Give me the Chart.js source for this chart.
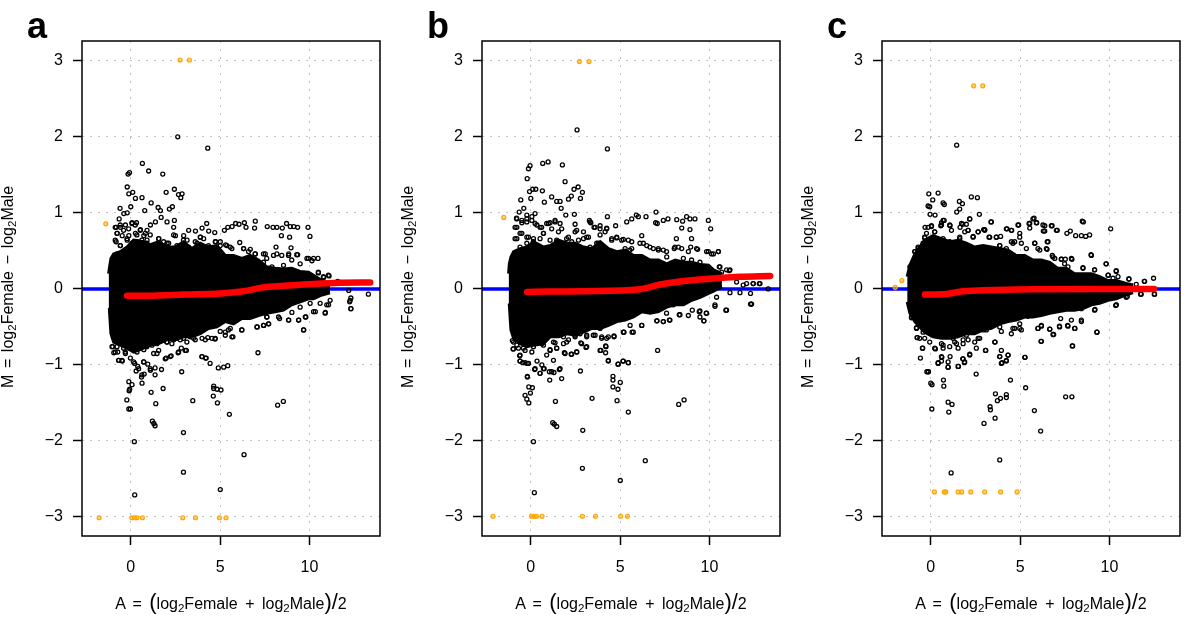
<!DOCTYPE html>
<html>
<head>
<meta charset="utf-8">
<script src="https://cdn.jsdelivr.net/npm/chart.js@4"></script>
<style>
  html, body { margin: 0; padding: 0; background: #fff; width: 1200px; height: 618px; overflow: hidden; }
  body { position: relative; font-family: "Liberation Sans", Arial, sans-serif; color: #000; }
  canvas { position: absolute; top: 0; }
  .letter { position: absolute; top: 1px; font-size: 36px; font-weight: bold; line-height: 50px; }
  .xtitle, .ytitle { position: absolute; font-size: 16px; line-height: 20px; white-space: nowrap; word-spacing: 3px; }
  .xtitle { top: 594px; width: 300px; text-align: center; }
  .ytitle { top: 277px; width: 300px; text-align: center; word-spacing: 2.2px; transform: rotate(-90deg); transform-origin: center; }
  sub { font-size: 11.5px; line-height: 0; vertical-align: -3px; }
  .big { font-size: 22px; line-height: 0; }
</style>
</head>
<body>
<canvas id="panel-a" width="400" height="618" style="left:0"></canvas>
<canvas id="panel-b" width="400" height="618" style="left:400px"></canvas>
<canvas id="panel-c" width="400" height="618" style="left:800px"></canvas>
<script>
const xTicks = [0, 5, 10];
const yTicks = [-3, -2, -1, 0, 1, 2, 3];
const xRange = [-2.73, 13.95];
const yRange = [-3.25, 3.26];

// panel a
const aCloudA = [-1.24, -1.2, -1.11, -0.96, -0.59, -0.21, 0.16, 0.72, 1.09, 1.56, 2.02, 2.49, 2.95, 3.42, 3.89, 4.35, 4.82, 5.29, 5.75, 6.22, 6.68, 7.15, 7.61, 8.08, 8.55, 9.01, 9.48, 9.95, 10.23, 10.7, 11.15];
const aCloudUpper = [0.2, 0.27, 0.4, 0.46, 0.49, 0.55, 0.64, 0.62, 0.58, 0.62, 0.55, 0.55, 0.62, 0.53, 0.6, 0.55, 0.57, 0.44, 0.44, 0.4, 0.44, 0.38, 0.29, 0.27, 0.26, 0.27, 0.23, 0.22, 0.18, 0.11, 0.05];
const aCloudLower = [-0.25, -0.26, -0.59, -0.7, -0.74, -0.78, -0.83, -0.78, -0.74, -0.72, -0.67, -0.67, -0.63, -0.63, -0.59, -0.52, -0.5, -0.43, -0.46, -0.39, -0.39, -0.35, -0.32, -0.3, -0.28, -0.21, -0.17, -0.13, -0.13, -0.08, -0.05];
const aTrendA = [-0.2, 1, 3, 5, 6.3, 7.43, 8.55, 10.2, 11.7, 13.4];
const aTrendM = [-0.09, -0.09, -0.074, -0.06, -0.03, 0.02, 0.04, 0.065, 0.08, 0.083];
const aOrange = [[2.76, 3.01], [3.28, 3.01], [-1.4, 0.855], [-1.77, -3.01], [0.06, -3.01], [0.22, -3.01], [0.34, -3.01], [0.65, -3.01], [2.91, -3.01], [3.62, -3.01], [4.96, -3.01], [5.33, -3.01]];
const aUpperPoints = [[2.63, 2], [4.31, 1.85], [0.65, 1.65], [1, 1.55], [1.79, 1.51], [-0.07, 1.53], [-0.15, 1.51], [-0.2, 1.34], [-0.11, 1.25], [0.11, 1.27], [0.26, 1.19], [0.63, 1.2], [1.98, 1.27], [2.44, 1.31], [2.67, 1.24], [2.87, 1.25], [2.8, 1.2], [1.14, 1.13], [1.53, 1.07], [1.66, 1.03], [2.16, 1.05], [2.33, 1.08], [0.78, 1.03], [0, 1.08], [-0.6, 1.06], [-0.39, 0.99], [-0.2, 1], [-0.65, 0.92],
  [1.38, 0.88], [1.7, 0.94], [2.03, 0.88], [2.44, 0.9], [4.25, 0.86], [3.99, 0.8], [3.24, 0.77], [3.62, 0.76], [4.36, 0.76], [4.7, 0.74], [5.24, 0.77], [5.43, 0.81], [5.67, 0.82], [5.87, 0.86], [6.06, 0.85], [6.36, 0.87], [6.45, 0.81], [6.97, 0.89], [6.93, 0.8], [7.64, 0.82], [7.96, 0.81], [8.18, 0.81], [8.48, 0.8], [8.72, 0.86], [8.93, 0.82], [9.12, 0.82], [9.34, 0.81], [9.92, 0.81], [10.03, 0.69], [8.43, 0.7], [8.89, 0.68], [8.13, 0.55], [8.97, 0.54], [8.18, 0.46], [8.84, 0.46], [9.34, 0.45], [6.1, 0.61], [5.31, 0.58], [5.01, 0.62], [4.75, 0.62], [5.57, 0.55], [6.32, 0.53], [6.69, 0.52], [6.97, 0.46], [7.53, 0.46], [9.86, 0.4], [10.14, 0.37], [10.48, 0.4], [10.5, 0.21], [11.1, 0.17], [10.8, 0.15], [11.58, 0.1], [13.3, -0.07], [12.32, -0.12], [12.2, -0.02],
  [-0.82, 0.81], [-0.58, 0.81], [-0.3, 0.84], [0.07, 0.87], [0.32, 0.87], [-0.76, 0.73], [-0.48, 0.7], [-0.11, 0.7], [0.26, 0.73], [0.54, 0.78], [0.91, 0.77], [0.73, 0.7], [1.1, 0.84], [-0.82, 0.62], [-0.58, 0.57], [-0.2, 0.64], [0.35, 0.62], [0.91, 0.64], [1.57, 0.66], [2.4, 0.81], [2.5, 0.7], [2.96, 0.7], [3.15, 0.64], [3.9, 0.68], [4.08, 0.66], [3.71, 0.6], [4.36, 0.55], [2.03, 0.6], [2.78, 0.57], [-0.95, 0.4], [-0.76, 0.46]];
const aUpperRim = [[-0.87, 0.81], [-0.59, 0.84], [-0.4, 0.77], [-0.77, 0.73], [-0.12, 0.79], [0.07, 0.86], [0.25, 0.84], [0.53, 0.77], [0.81, 0.73], [1.09, 0.71], [-0.87, 0.64], [-0.59, 0.57], [-0.21, 0.66], [0.07, 0.6], [0.34, 0.71], [0.62, 0.64], [0.9, 0.6], [1.18, 0.55], [1.56, 0.66], [1.84, 0.62], [2.12, 0.6], [2.4, 0.71], [2.58, 0.57], [2.95, 0.64], [3.24, 0.55], [3.61, 0.62], [3.89, 0.68], [4.07, 0.55], [4.35, 0.57], [4.73, 0.62], [5.01, 0.57], [5.38, 0.57], [5.66, 0.53], [6.31, 0.53], [6.59, 0.49], [6.96, 0.46], [7.43, 0.46], [7.61, 0.4], [7.99, 0.44], [8.45, 0.44], [8.83, 0.44], [9.29, 0.45], [7.43, 0.35], [7.9, 0.29], [8.55, 0.31], [9.01, 0.38], [9.48, 0.33], [9.95, 0.4], [10.23, 0.4], [10.5, 0.22], [10.78, 0.16], [11.06, 0.18]];
const aLowerPoints = [[0.22, -2.71], [5.01, -2.64], [2.95, -2.41], [6.34, -2.18], [0.2, -2.01], [2.95, -1.89], [5.52, -1.65], [1.36, -1.8], [1.21, -1.74], [1.29, -1.77], [1.4, -1.51], [-0.11, -1.58], [-0.02, -1.58], [-0.22, -1.46], [1.14, -1.36], [1.81, -1.31], [0.63, -1.24], [0.6, -1.16], [0.75, -1.12], [1.1, -1.07], [1.36, -1.04], [1.36, -1.13], [1.72, -1.06], [-0.11, -1.22], [0.07, -1.26], [-0.06, -1.32], [-0.09, -1.34], [3.47, -1.47], [4.85, -1.5], [4.64, -1.28], [4.64, -1.31], [4.83, -1.32], [5.05, -1.33], [4.62, -1.41], [2.85, -1.09], [4.9, -1.04], [5.2, -1.03], [5.43, -1.01], [8.22, -1.53], [8.54, -1.48], [7.12, -0.84], [4.44, -0.98], [3.99, -0.89], [4.19, -0.91], [2.83, -0.78], [3.11, -0.81], [2.65, -0.84], [2.26, -0.88], [1.98, -0.91], [0.95, -0.99], [0.73, -0.96], [0.3, -1.08], [0.39, -1.02], [0.22, -0.98], [-0.02, -0.91], [-0.48, -0.95], [-0.67, -0.94], [-1.01, -0.76], [-0.95, -0.84], [-0.73, -0.83], [-0.3, -0.85], [0.35, -0.83], [0.73, -0.8], [1.47, -0.85], [1.19, -0.74], [1.57, -0.67], [2.03, -0.7], [2.4, -0.67], [2.96, -0.65], [3.52, -0.65], [3.99, -0.65], [4.31, -0.64], [4.72, -0.66], [5.29, -0.61], [5.72, -0.63], [6.21, -0.54], [7.08, -0.5], [7.44, -0.48], [7.72, -0.46], [9.68, -0.54], [8.84, -0.41], [9.4, -0.41], [8.33, -0.39], [9.77, -0.37], [10.89, -0.31], [12.32, -0.26], [12.25, -0.17], [11.07, -0.21], [10.33, -0.3], [9.02, -0.31], [7.62, -0.37], [6.88, -0.35], [5.57, -0.52], [5.01, -0.56]];
const aLowerRim = [[-1.05, -0.76], [-0.87, -0.83], [-0.68, -0.94], [-0.49, -0.94], [-0.31, -0.83], [-0.03, -0.78], [0.16, -0.96], [0.44, -1.05], [0.62, -1.13], [0.72, -0.96], [1.09, -1.05], [1.28, -0.85], [1.56, -0.81], [1.93, -0.92], [2.21, -0.89], [2.68, -0.83], [3.05, -0.81], [2.3, -0.72], [2.77, -0.67], [3.14, -0.7], [3.61, -0.67], [3.98, -0.89], [4.22, -0.91], [4.17, -0.67], [4.54, -0.65], [4.73, -0.65], [5.29, -0.57], [5.47, -0.54], [5.66, -0.63], [6.22, -0.54], [7.06, -0.5], [7.43, -0.48], [7.71, -0.46], [7.61, -0.37], [8.27, -0.37], [8.83, -0.41], [9.39, -0.41], [9.67, -0.54], [9.8, -0.37], [10.23, -0.3], [10.88, -0.32], [10.97, -0.21], [11.16, -0.15], [12.28, -0.15], [12.32, -0.26], [9.48, -0.24], [10.04, -0.19], [10.6, -0.19], [-0.77, -0.76], [-0.4, -0.78], [0.34, -0.78], [0.9, -0.76], [1.46, -0.72], [2.02, -0.7], [2.58, -0.65], [3.33, -0.63]];

// panel b
const bCloudA = [-1.24, -1.2, -1.11, -0.96, -0.59, -0.21, 0.16, 0.72, 1.09, 1.56, 2.02, 2.49, 2.95, 3.42, 3.89, 4.35, 4.82, 5.29, 5.75, 6.22, 6.68, 7.15, 7.61, 8.08, 8.55, 9.01, 9.48, 9.95, 10.23, 10.7];
const bCloudUpper = [0.2, 0.33, 0.42, 0.49, 0.53, 0.55, 0.62, 0.55, 0.57, 0.64, 0.6, 0.6, 0.55, 0.53, 0.62, 0.53, 0.49, 0.51, 0.44, 0.44, 0.38, 0.38, 0.33, 0.38, 0.35, 0.35, 0.32, 0.31, 0.25, 0.2];
const bCloudLower = [-0.22, -0.21, -0.54, -0.65, -0.72, -0.76, -0.74, -0.72, -0.63, -0.63, -0.59, -0.61, -0.57, -0.52, -0.52, -0.48, -0.43, -0.41, -0.37, -0.3, -0.32, -0.3, -0.24, -0.21, -0.21, -0.15, -0.11, -0.06, -0.03, 0.03];
const bTrendA = [-0.2, 1, 3, 6.1, 7.24, 8.36, 10.2, 11.7, 13.4];
const bTrendM = [-0.04, -0.035, -0.03, -0.004, 0.057, 0.096, 0.136, 0.158, 0.17];
const bOrange = [[2.72, 2.99], [3.26, 2.99], [-1.51, 0.94], [-2.11, -2.99], [0.04, -2.99], [0.19, -2.99], [0.32, -2.99], [0.63, -2.99], [2.89, -2.99], [3.62, -2.99], [5.03, -2.99], [5.41, -2.99]];
const bUpperPoints = [[2.59, 2.09], [4.29, 1.84], [0.67, 1.65], [0.97, 1.67], [1.77, 1.63], [-0.04, 1.62], [-0.13, 1.58], [-0.2, 1.45], [1.92, 1.41], [-0.07, 1.28], [0.11, 1.31], [0.28, 1.31], [0.65, 1.29], [0, 1.19], [1.17, 1.21], [2.42, 1.31], [2.65, 1.34], [2.89, 1.27], [2.78, 1.19], [2.11, 1.18], [2.27, 1.22], [0.76, 1.14], [1.45, 1.15], [1.64, 1.15], [1.7, 1.06], [-0.56, 1.17], [-0.39, 1.06], [-0.65, 1.01], [0.24, 0.99], [0.06, 0.95], [-0.8, 0.93], [-0.22, 0.97], [1.96, 0.97], [2.44, 0.98], [4.29, 0.95], [7.01, 1.01], [5.91, 0.97], [6.02, 0.95], [6.45, 0.95], [8.72, 0.95], [8.91, 0.92], [9.19, 0.92], [9.94, 0.9], [7.68, 0.92], [8.17, 0.91], [8.5, 0.89], [7.42, 0.9], [6.99, 0.87], [7.08, 0.86], [5.65, 0.92], [5.37, 0.88], [4.75, 0.83], [4.25, 0.8], [3.88, 0.83], [3.54, 0.81], [3.28, 0.9], [3.36, 0.87], [8.45, 0.8], [8.91, 0.78], [10.07, 0.79], [8.15, 0.66], [9, 0.66], [8.03, 0.53], [8.26, 0.55], [8.95, 0.55], [9.34, 0.52], [9.94, 0.49], [10.12, 0.46], [10.5, 0.49], [10.55, 0.29], [11.11, 0.24], [10.68, 0.22], [11.52, 0.09], [12.08, 0.07], [12.45, 0.07], [12.79, 0.07], [12.3, -0.06], [13.29, 0], [12.3, -0.2],
  [1.36, 0.9], [0.89, 0.86], [1.08, 0.87], [1.64, 0.86], [2.48, 0.85], [-0.78, 0.81], [-0.5, 0.87], [-0.22, 0.88], [0.34, 0.84], [0.61, 0.81], [-0.78, 0.66], [-0.5, 0.73], [-0.13, 0.68], [0.15, 0.62], [0.71, 0.73], [1.17, 0.79], [1.45, 0.64], [2.01, 0.66], [2.57, 0.77], [2.95, 0.75], [3.13, 0.68], [3.88, 0.71], [4.16, 0.75], [3.69, 0.6], [4.53, 0.64], [4.81, 0.67], [5.18, 0.65], [5.65, 0.62], [6.21, 0.7], [6.3, 0.6], [6.67, 0.55], [7.14, 0.53], [7.6, 0.49], [5.55, 0.51]];
const bUpperRim = [[-0.88, 0.81], [-0.78, 0.92], [-0.5, 0.9], [-0.22, 0.92], [0.06, 0.9], [0.24, 0.86], [0.52, 0.81], [0.71, 0.73], [0.99, 0.86], [1.36, 0.88], [1.55, 0.75], [1.73, 0.79], [2.11, 0.68], [2.48, 0.75], [2.67, 0.64], [2.95, 0.66], [3.23, 0.68], [3.32, 0.88], [3.6, 0.81], [3.88, 0.79], [4.25, 0.79], [3.78, 0.6], [4.06, 0.55], [4.53, 0.66], [4.81, 0.68], [5.09, 0.64], [5.46, 0.64], [5.28, 0.53], [5.65, 0.53], [6.11, 0.6], [6.49, 0.57], [6.86, 0.53], [7.14, 0.51], [7.42, 0.51], [7.61, 0.42], [8.07, 0.55], [8.45, 0.53], [8.82, 0.49], [9.28, 0.53], [9.84, 0.49], [10.22, 0.46], [10.5, 0.49], [10.59, 0.29], [10.96, 0.25], [11.15, 0.25], [8.54, 0.4], [9, 0.38], [9.47, 0.35], [-0.88, 0.66], [-0.6, 0.73], [-0.22, 0.68], [0.15, 0.66], [-0.6, 0.55], [-0.22, 0.6], [0.52, 0.66], [1.08, 0.64], [1.45, 0.62], [1.92, 0.6], [2.29, 0.62], [2.76, 0.55], [3.32, 0.55]];
const bLowerPoints = [[0.2, -2.68], [5.01, -2.52], [2.89, -2.36], [6.41, -2.26], [0.15, -2.01], [2.91, -1.86], [1.45, -1.81], [1.23, -1.76], [1.32, -1.78], [5.46, -1.62], [1.38, -1.48], [-0.11, -1.5], [-0.22, -1.45], [-0.32, -1.4], [-0.02, -1.37], [-0.11, -1.29], [0.09, -1.3], [-0.19, -1.15], [1.06, -1.2], [1.73, -1.18], [3.43, -1.44], [4.83, -1.47], [4.88, -1.32], [4.6, -1.29], [4.6, -1.2], [4.6, -1.15], [5.01, -1.23], [2.78, -1.08], [4.88, -0.99], [5.16, -0.95], [5.46, -0.97], [8.28, -1.52], [8.58, -1.46], [7.1, -0.81], [4.34, -0.95], [3.92, -0.81], [4.19, -0.84], [4.19, -0.75], [2.8, -0.71], [3.09, -0.77], [2.57, -0.83], [2.26, -0.86], [1.88, -0.84], [1.6, -1.06], [1.3, -1.1], [1.04, -1.09], [0.75, -1.05], [0.52, -1.11], [0.22, -1.06], [0.35, -0.95], [-0.2, -0.98], [-0.6, -0.95], [-0.45, -0.97], [-0.62, -0.88], [-0.99, -0.79], [-1.03, -0.68], [-0.78, -0.74], [-0.32, -0.81], [0.06, -0.83], [0.62, -0.72], [1.08, -0.8], [1.45, -0.78], [1.36, -0.71], [2.01, -0.7], [2.48, -0.61], [3.13, -0.61], [3.5, -0.61], [3.97, -0.65], [4.34, -0.63], [4.66, -0.62], [5.22, -0.57], [5.67, -0.57], [6.21, -0.48], [7.07, -0.42], [7.42, -0.43], [7.76, -0.41], [8.31, -0.34], [9.04, -0.28], [9.69, -0.42], [9.43, -0.3], [9.82, -0.32], [10.92, -0.28], [12.34, -0.2], [10.31, -0.23], [7.6, -0.32], [5.56, -0.48]];
const bLowerRim = [[-0.97, -0.7], [-0.97, -0.79], [-0.69, -0.78], [-0.6, -0.87], [-0.6, -0.95], [-0.32, -0.97], [-0.13, -0.98], [-0.19, -1.16], [0.24, -1.05], [0.52, -1.11], [0.62, -1], [0.71, -1.05], [0.89, -0.87], [1.08, -0.81], [1.27, -0.94], [1.17, -1.09], [1.45, -0.78], [1.64, -1.05], [1.83, -0.72], [1.92, -0.85], [2.29, -0.86], [2.57, -0.83], [2.85, -0.72], [3.13, -0.76], [2.11, -0.67], [2.48, -0.63], [3.13, -0.63], [3.6, -0.61], [3.97, -0.63], [4.25, -0.65], [3.88, -0.81], [4.21, -0.76], [4.34, -0.94], [4.66, -0.63], [4.9, -0.99], [5.18, -0.95], [5.46, -0.97], [5.18, -0.57], [5.74, -0.57], [6.21, -0.48], [7.05, -0.42], [7.42, -0.43], [7.79, -0.41], [7.98, -0.21], [8.35, -0.34], [8.82, -0.35], [9.47, -0.37], [9.69, -0.42], [9.84, -0.32], [9.47, -0.29], [10.31, -0.21], [10.96, -0.28], [10.4, -0.11], [11.15, -0.05], [11.71, -0.05], [12.36, -0.2], [11.89, 0.05], [12.45, 0.07], [12.83, 0.07], [-0.41, -0.78], [0.15, -0.76], [0.71, -0.74], [1.27, -0.7], [1.83, -0.63], [2.76, -0.59], [3.88, -0.52]];

// panel c
const cCloudA = [-1.32, -1.17, -0.89, -0.62, -0.34, 0.13, 0.6, 1.06, 1.53, 1.99, 2.46, 2.93, 3.39, 3.86, 4.33, 4.79, 5.26, 5.72, 6.19, 6.66, 7.12, 7.59, 8.05, 8.52, 8.99, 9.45, 9.92, 10.38, 10.94, 11.32];
const cCloudUpper = [0.16, 0.31, 0.46, 0.55, 0.64, 0.7, 0.66, 0.62, 0.64, 0.6, 0.55, 0.57, 0.55, 0.53, 0.51, 0.44, 0.44, 0.38, 0.38, 0.35, 0.27, 0.27, 0.2, 0.2, 0.2, 0.16, 0.11, 0.11, 0.07, 0.05];
const cCloudLower = [-0.17, -0.32, -0.43, -0.5, -0.57, -0.63, -0.65, -0.65, -0.63, -0.59, -0.59, -0.54, -0.52, -0.46, -0.43, -0.41, -0.37, -0.37, -0.35, -0.32, -0.3, -0.28, -0.28, -0.26, -0.21, -0.19, -0.15, -0.13, -0.08, -0.05];
const cTrendA = [-0.33, 0.88, 1.8, 2.93, 5.72, 9.45, 12.5];
const cTrendM = [-0.074, -0.066, -0.03, -0.018, -0.004, 0, 0];
const cOrange = [[2.4, 2.67], [2.91, 2.67], [-1.62, 0.11], [-1.99, 0.02], [0.2, -2.67], [0.76, -2.67], [0.84, -2.67], [1.53, -2.67], [1.73, -2.67], [2.24, -2.67], [3.02, -2.67], [3.91, -2.67], [4.83, -2.67]];
const cUpperPoints = [[1.45, 1.89], [-0.11, 1.25], [0.41, 1.26], [0.11, 1.17], [2.27, 1.21], [2.61, 1.2], [1.6, 1.15], [1.77, 1.12], [0.69, 1.13], [0.76, 1.11], [-0.15, 1.09], [-0.06, 1.08], [1.62, 1.05], [1.45, 1.01], [-0.04, 0.98], [0.24, 0.97], [2.72, 0.98], [2.18, 0.92], [0.75, 0.9], [0.6, 0.87], [0.56, 0.83], [1.08, 0.83], [1.79, 0.85], [1.64, 0.81], [1.99, 0.85], [3.37, 0.88], [-0.32, 0.81], [0.04, 0.83], [5.78, 0.93], [5.93, 0.87], [5.5, 0.86], [5.54, 0.8], [6.38, 0.83], [6.79, 0.83], [6.3, 0.76], [7.08, 0.77], [8.48, 0.89], [8.54, 0.88], [10.07, 0.79], [7.62, 0.73], [7.81, 0.76], [8.11, 0.7], [8.43, 0.7], [8.67, 0.69], [8.89, 0.71], [4.27, 0.79], [4.53, 0.77], [4.92, 0.84], [3.67, 0.68], [3.91, 0.69], [3.26, 0.68], [2.96, 0.78], [2.37, 0.69], [2.65, 0.75], [3.02, 0.77], [2.09, 0.77], [6.52, 0.62], [5.82, 0.6], [6.1, 0.51], [6.51, 0.52], [8.97, 0.45], [6.8, 0.44], [6.94, 0.4], [7.31, 0.39], [7.53, 0.39], [7.9, 0.39], [9.81, 0.33], [10.38, 0.23], [9.94, 0.18], [10.2, 0.14], [11.09, 0.13], [11.95, 0.1], [12.47, 0.14], [11.74, -0.07], [12.51, -0.07], [11, -0.1], [10.38, -0.21], [8.52, 0.28], [9.17, 0.25], [4.6, 0.6], [4.98, 0.73], [4.51, 0.62], [3.86, 0.57], [1.62, 0.68], [-0.24, 0.73], [0.22, 0.75], [-0.34, 0.67], [-0.9, 0.49], [-0.71, 0.53], [-1.08, 0.31]];
const cUpperRim = [[-1.17, 0.29], [-0.89, 0.49], [-0.71, 0.55], [-0.43, 0.6], [-0.34, 0.68], [0.22, 0.75], [-0.15, 0.81], [0.04, 0.82], [0.6, 0.84], [0.69, 0.9], [1.06, 0.84], [1.16, 0.77], [1.72, 0.86], [1.9, 0.75], [2.18, 0.92], [2.09, 0.77], [2.65, 0.75], [3.02, 0.78], [2.37, 0.68], [3.3, 0.68], [3.67, 0.68], [4.23, 0.79], [4.51, 0.77], [4.88, 0.84], [3.39, 0.88], [4.98, 0.68], [5.07, 0.6], [5.35, 0.53], [4.7, 0.62], [4.23, 0.53], [3.86, 0.57], [5.54, 0.86], [5.72, 0.92], [5.91, 0.87], [6.28, 0.84], [6.38, 0.76], [6.75, 0.83], [7.03, 0.77], [5.82, 0.6], [6.56, 0.62], [6, 0.53], [6.47, 0.53], [6.84, 0.42], [7.31, 0.39], [7.49, 0.33], [7.68, 0.29], [7.87, 0.4], [8.52, 0.27], [8.99, 0.44], [9.17, 0.25], [9.82, 0.33], [9.92, 0.18], [10.38, 0.24], [10.48, 0.16], [11.09, 0.13], [11.5, 0.06], [11.97, 0.1], [1.99, 0.57], [1.06, 0.62], [0.69, 0.66], [1.62, 0.66]];
const cLowerPoints = [[1.14, -2.42], [3.86, -2.25], [6.15, -1.87], [2.98, -1.77], [3.6, -1.7], [0.06, -1.58], [1.01, -1.62], [0.97, -1.49], [1.19, -1.52], [5.8, -1.6], [3.32, -1.55], [3.34, -1.59], [3.73, -1.47], [3.9, -1.44], [3.62, -1.38], [4.23, -1.39], [4.23, -1.43], [5.31, -1.3], [7.55, -1.42], [7.9, -1.42], [0.73, -1.28], [0.71, -1.2], [0, -1.24], [0.07, -1.26], [-0.22, -1.09], [-0.13, -1.09], [2.54, -1.12], [4.46, -1.2], [0.97, -1.03], [1.55, -1.02], [0.41, -0.97], [0.6, -0.95], [3.99, -0.97], [4.23, -0.95], [1.88, -0.97], [1.79, -0.92], [1.08, -0.89], [0.62, -0.9], [-0.58, -0.91], [-0.45, -0.78], [0.26, -0.79], [3.06, -0.81], [2.18, -0.86], [3.6, -0.7], [3.86, -0.89], [4.32, -0.87], [5.28, -0.9], [6.17, -0.69], [7.94, -0.75], [9.3, -0.57], [6.88, -0.6], [6.66, -0.53], [6, -0.52], [6.19, -0.49], [7.2, -0.49], [7.66, -0.48], [8.07, -0.52], [8.43, -0.43], [7.27, -0.39], [-0.76, -0.64], [-1.08, -0.38], [-0.8, -0.52], [-0.34, -0.65], [0.69, -0.74], [1.44, -0.72], [1.81, -0.72], [2.46, -0.7], [2.74, -0.65], [3.95, -0.56], [4.51, -0.59], [4.98, -0.52], [4.6, -0.52], [9.19, -0.27], [10.35, -0.22], [5.44, -0.36]];
const cLowerRim = [[-1.08, -0.37], [-0.8, -0.51], [-0.76, -0.64], [-0.43, -0.57], [-0.47, -0.78], [-0.15, -1.09], [0.22, -0.78], [0.41, -0.98], [0.6, -0.89], [0.69, -0.78], [0.97, -0.96], [0.97, -1.03], [1.06, -0.76], [1.53, -0.78], [1.53, -1.02], [1.81, -0.92], [1.9, -0.96], [2.18, -0.87], [1.34, -0.7], [1.81, -0.67], [2.09, -0.67], [2.55, -0.78], [2.65, -0.65], [3.11, -0.54], [3.08, -0.81], [3.58, -0.7], [3.86, -0.89], [3.95, -0.81], [4.23, -0.94], [3.95, -0.98], [4.33, -0.87], [4.7, -0.52], [4.98, -0.46], [5.26, -0.9], [5.07, -0.54], [6, -0.52], [6.19, -0.48], [6.19, -0.69], [6.66, -0.53], [6.84, -0.6], [7.21, -0.5], [7.68, -0.49], [8.05, -0.52], [7.87, -0.41], [8.43, -0.41], [7.92, -0.75], [9.3, -0.57], [8.43, -0.26], [9.17, -0.28], [10.38, -0.21], [10.94, -0.11], [11.78, -0.07], [12.53, -0.07], [-0.62, -0.65], [-0.06, -0.7], [0.6, -0.72], [1.25, -0.65], [1.99, -0.61], [2.93, -0.54], [3.86, -0.5]];

const colors = { point: "#000000", orange: "#ffa500", blue: "#0000ff", red: "#ff0000", grid: "#c4c4c4" };

const frame = {
  id: "frame",
  afterDraw(chart) {
    const { ctx, chartArea: a } = chart;
    ctx.save();
    ctx.strokeStyle = "#000";
    ctx.lineWidth = 1.5;
    ctx.strokeRect(a.left, a.top, a.right - a.left, a.bottom - a.top);
    ctx.restore();
  }
};

function pairs(list) {
  return list.map(([x, y]) => ({ x, y }));
}

function zipped(xs, ys) {
  return xs.map((x, i) => ({ x, y: ys[i] }));
}

function axisOptions(values, range, extra) {
  return {
    min: range[0],
    max: range[1],
    afterBuildTicks: (scale) => { scale.ticks = values.map((value) => ({ value })); },
    grid: { color: colors.grid, lineWidth: 1, tickColor: "#000", tickWidth: 1.5, tickLength: 9, drawOnChartArea: true },
    border: { display: false, dash: [2, 6] },
    ticks: {
      color: "#000",
      font: { family: "'Liberation Sans'", size: 16 },
      maxRotation: 0,
      callback: (value) => String(value).replace("-", "\u2212"),
      ...extra
    }
  };
}

function renderPanel(id, p) {
  new Chart(document.getElementById(id), {
    type: "scatter",
    data: {
      datasets: [
        { data: zipped(xRange, [0, 0]), showLine: true, borderColor: colors.blue, borderWidth: 3.5, pointRadius: 0, order: 9 },
        { data: zipped(p.cloudA, p.cloudUpper), showLine: true, fill: "+1", backgroundColor: colors.point, borderColor: colors.point, borderWidth: 3, pointRadius: 0, order: 8 },
        { data: zipped(p.cloudA, p.cloudLower), showLine: true, borderColor: colors.point, borderWidth: 3, pointRadius: 0, order: 7 },
        { data: pairs(p.black), pointRadius: 2, borderWidth: 1.3, borderColor: colors.point, backgroundColor: "rgba(0,0,0,0)", order: 5 },
        { data: pairs(p.orange), pointRadius: 2, borderWidth: 1.2, borderColor: colors.orange, backgroundColor: "rgba(255,165,0,0.5)", order: 4 },
        { data: zipped(p.trendA, p.trendM), showLine: true, borderColor: colors.red, borderWidth: 6.5, borderCapStyle: "round", borderJoinStyle: "round", cubicInterpolationMode: "monotone", pointRadius: 0, order: 1 }
      ]
    },
    options: {
      responsive: false,
      animation: false,
      layout: { padding: { top: 41, right: 20, bottom: 0, left: 0 } },
      plugins: { legend: { display: false }, tooltip: { enabled: false } },
      scales: {
        x: { ...axisOptions(xTicks, xRange, { padding: 13 }), afterFit: (s) => { s.height = 82; } },
        y: { ...axisOptions(yTicks, yRange, { padding: 10 }), afterFit: (s) => { s.width = 82; } }
      }
    },
    plugins: [frame]
  });
}

renderPanel("panel-a", { cloudA: aCloudA, cloudUpper: aCloudUpper, cloudLower: aCloudLower, trendA: aTrendA, trendM: aTrendM, orange: aOrange, black: aUpperPoints.concat(aUpperRim, aLowerPoints, aLowerRim) });
renderPanel("panel-b", { cloudA: bCloudA, cloudUpper: bCloudUpper, cloudLower: bCloudLower, trendA: bTrendA, trendM: bTrendM, orange: bOrange, black: bUpperPoints.concat(bUpperRim, bLowerPoints, bLowerRim) });
renderPanel("panel-c", { cloudA: cCloudA, cloudUpper: cCloudUpper, cloudLower: cCloudLower, trendA: cTrendA, trendM: cTrendM, orange: cOrange, black: cUpperPoints.concat(cUpperRim, cLowerPoints, cLowerRim) });

const panelLetters = ["a", "b", "c"];
panelLetters.forEach((letter, i) => {
  const left = 400 * i;
  document.body.insertAdjacentHTML("beforeend",
    `<div class="letter" style="left:${left + 27}px">${letter}</div>` +
    `<div class="xtitle" style="left:${left + 81}px">A = <span class="big">(</span>log<sub>2</sub>Female + log<sub>2</sub>Male<span class="big">)/</span>2</div>` +
    `<div class="ytitle" style="left:${left - 142}px">M = log<sub>2</sub>Female \u2212 log<sub>2</sub>Male</div>`);
});
</script>
</body>
</html>
